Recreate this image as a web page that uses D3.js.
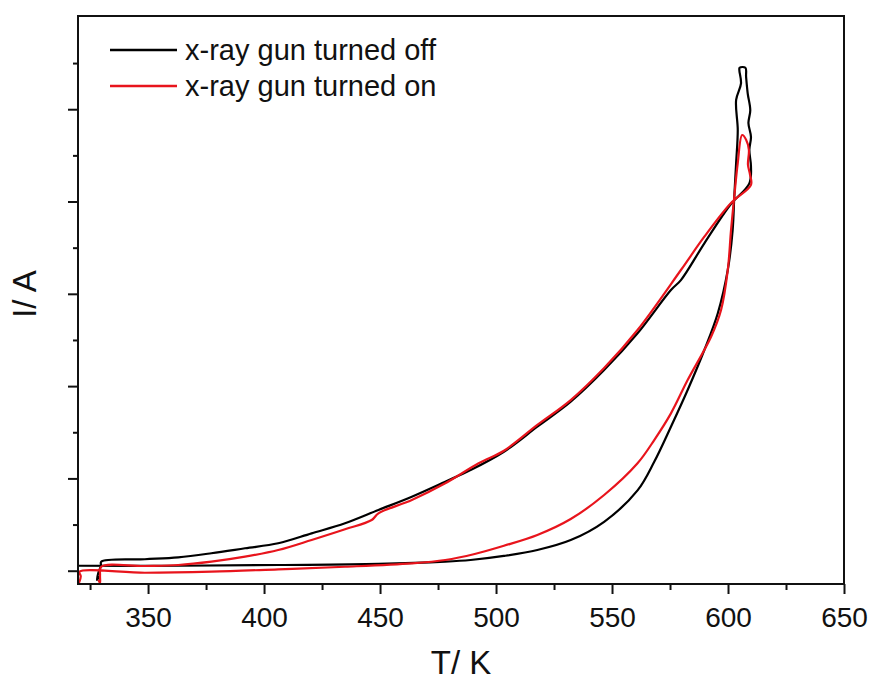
<!DOCTYPE html>
<html><head><meta charset="utf-8">
<script src="https://cdn.jsdelivr.net/npm/d3@7"></script>
<style>body{margin:0;background:#fff}svg{display:block}text{font-family:"Liberation Sans",Arial,sans-serif;fill:#111}</style>
</head><body><svg id="c" width="872" height="681"></svg>
<script>
const seriesNames = ["x-ray gun turned off", "x-ray gun turned on"];
const seriesColors = ["#000000", "#e8141c"];
const xMajorTicks = [350, 400, 450, 500, 550, 600, 650];
const xMinorTicks = [325, 375, 425, 475, 525, 575, 625];
const yMajorTicks = [0, 1, 2, 3, 4, 5];
const yMinorTicks = [0.5, 1.5, 2.5, 3.5, 4.5, 5.5];
// [T (K), I (arb. units)]
const offT = [320.0,363.0,406.1,449.3,478.1,489.0,503.4,517.8,532.2,546.6,561.0,568.2,575.4,582.6,589.8,595.6,599.9,602.0,602.7,603.5,604.2,603.5,605.6,604.9,605.0,607.5,607.8,608.5,609.6,608.8,609.9,609.2,609.9,609.2,601.0,589.8,579.7,575.4,561.0,546.6,532.2,517.8,503.4,489.0,478.1,463.7,449.3,434.9,420.5,406.1,391.8,377.3,363.0,348.6,329.8,329.7,328.6,328.0,329.0];
const offI = [0.054,0.054,0.062,0.073,0.098,0.116,0.16,0.224,0.332,0.53,0.87,1.18,1.560,1.958,2.391,2.789,3.258,3.691,4.052,4.417,4.775,5.10,5.28,5.42,5.45,5.45,5.35,5.17,4.99,4.85,4.70,4.56,4.38,4.197,3.965,3.547,3.149,3.041,2.572,2.174,1.831,1.560,1.289,1.090,0.964,0.802,0.658,0.514,0.405,0.297,0.243,0.189,0.145,0.124,0.098,0.054,-0.02,-0.10,-0.06];
const onT = [320.2,321.0,320.4,348.6,377.3,406.1,434.9,463.7,478.1,490.8,503.4,517.8,532.2,546.6,561.0,568.2,575.4,582.6,592.7,597.0,599.9,601.3,602.7,604.2,606.1,607.8,609.0,608.6,609.5,609.9,601.3,589.8,579.7,561.0,546.6,532.2,517.8,503.4,492.5,478.1,463.7,449.3,446.4,434.9,420.5,406.1,391.8,377.3,363.0,348.6,329.8,329.3,329.3,328.6];
const onI = [-0.134,-0.06,-0.011,-0.022,-0.011,0.015,0.043,0.080,0.116,0.181,0.27,0.387,0.56,0.820,1.164,1.416,1.705,2.066,2.535,2.825,3.258,3.691,4.052,4.417,4.720,4.67,4.56,4.40,4.29,4.18,3.984,3.619,3.258,2.608,2.196,1.849,1.579,1.300,1.164,0.947,0.766,0.622,0.549,0.449,0.333,0.224,0.152,0.098,0.062,0.051,0.043,-0.047,-0.134,-0.10];

const W = 872, H = 681;
const m = {l: 78, r: 844, t: 16, b: 584};
const svg = d3.select("#c");
const x = d3.scaleLinear().domain([319.8, 650]).range([m.l, m.r]);
const y = d3.scaleLinear().domain([-0.144, 6.01]).range([m.b, m.t]);

const series = [
  {name: seriesNames[0], color: seriesColors[0], pts: offT.map((t, i) => [t, offI[i]])},
  {name: seriesNames[1], color: seriesColors[1], pts: onT.map((t, i) => [t, onI[i]])}
];
const line = d3.line().curve(d3.curveCatmullRom.alpha(0.5)).x(d => x(d[0])).y(d => y(d[1]));
const g = svg.append("g");
const clipId = "clip";
svg.append("clipPath").attr("id", clipId).append("rect")
  .attr("x", m.l).attr("y", m.t).attr("width", m.r - m.l).attr("height", m.b - m.t);
series.forEach(s => {
  g.append("path").datum(s.pts).attr("d", line).attr("fill", "none")
    .attr("stroke", s.color).attr("stroke-width", 2.2).attr("stroke-linejoin", "round")
    .attr("clip-path", `url(#${clipId})`);
});

// axes
const xAx = svg.append("g").attr("transform", `translate(0,${m.b})`)
  .call(d3.axisBottom(x).tickValues(xMajorTicks).tickSize(10).tickFormat(d3.format("d")));
const xAxMin = svg.append("g").attr("transform", `translate(0,${m.b})`)
  .call(d3.axisBottom(x).tickValues(xMinorTicks).tickSize(6).tickFormat(""));
const yAx = svg.append("g").attr("transform", `translate(${m.l},0)`)
  .call(d3.axisLeft(y).tickValues(yMajorTicks).tickSize(10).tickFormat(""));
const yAxMin = svg.append("g").attr("transform", `translate(${m.l},0)`)
  .call(d3.axisLeft(y).tickValues(yMinorTicks).tickSize(5).tickFormat(""));
[xAx, xAxMin, yAx, yAxMin].forEach(a => {
  a.select(".domain").remove();
  a.selectAll("line").attr("stroke", "#111").attr("stroke-width", 2);
});
xAx.selectAll("text").attr("y", 43).attr("dy", null).attr("font-size", 28)
  .style("font-family", '"Liberation Sans",Arial,sans-serif').attr("fill", "#111");

// frame
svg.append("rect").attr("x", m.l).attr("y", m.t).attr("width", m.r - m.l).attr("height", m.b - m.t)
  .attr("fill", "none").attr("stroke", "#111").attr("stroke-width", 2);

// titles
svg.append("text").attr("x", 461).attr("y", 674).attr("text-anchor", "middle")
  .attr("font-size", 33).text("T/ K");
svg.append("text").attr("transform", "translate(36,294) rotate(-90)").attr("text-anchor", "middle")
  .attr("font-size", 33).text("I/ A");

// legend
series.forEach((s, i) => {
  const ly = 50 + i * 36;
  svg.append("line").attr("x1", 110).attr("x2", 177).attr("y1", ly).attr("y2", ly)
    .attr("stroke", s.color).attr("stroke-width", 2.5);
  svg.append("text").attr("x", 185).attr("y", ly + 10).attr("font-size", 29).text(s.name);
});
</script></body></html>
